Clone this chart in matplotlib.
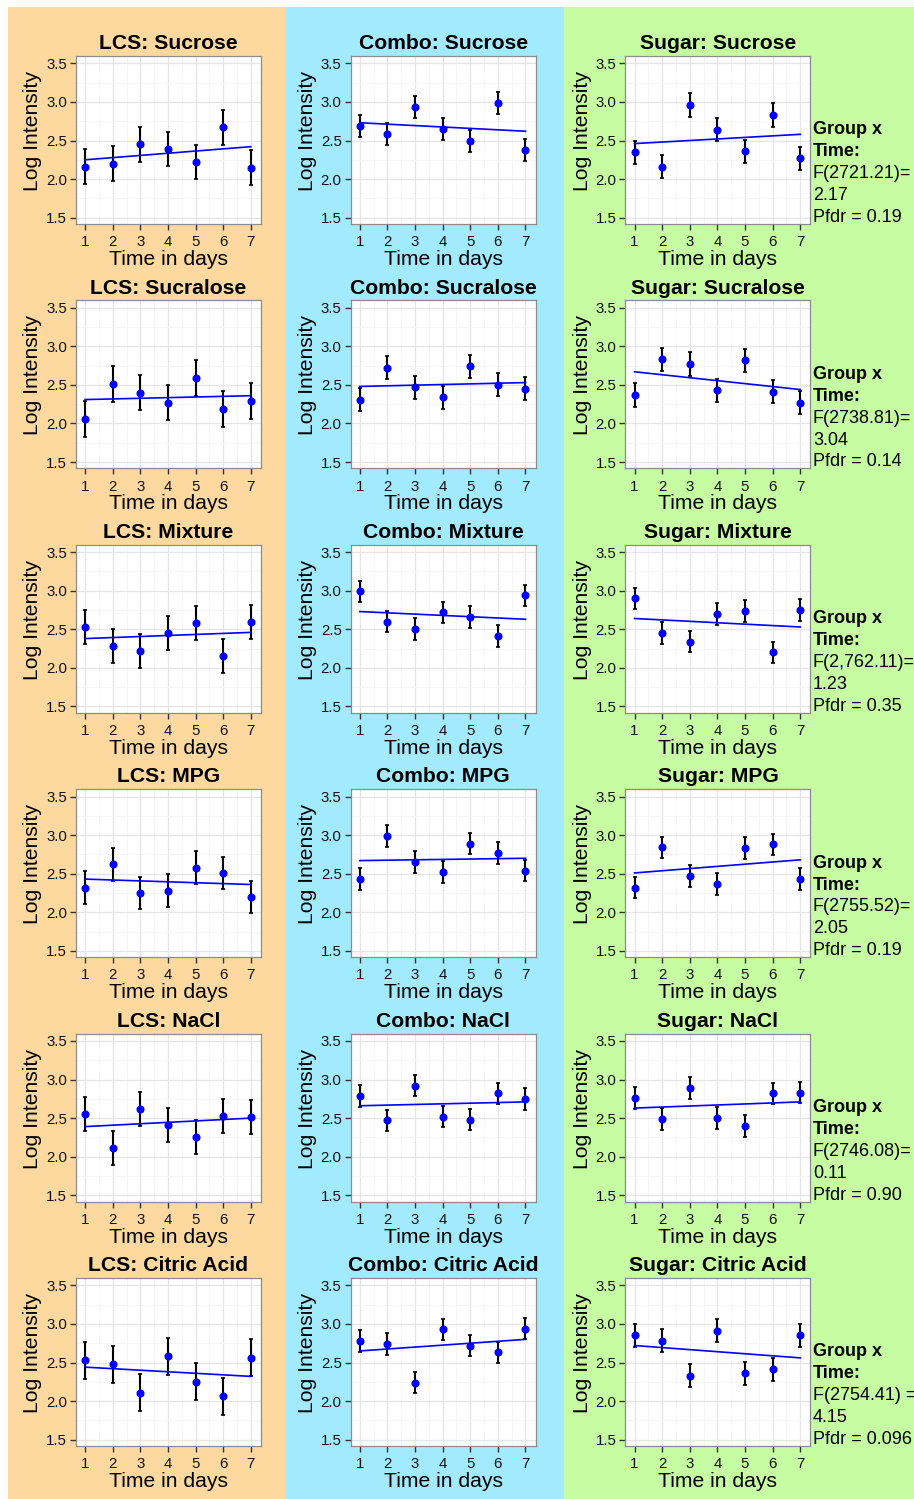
import matplotlib
matplotlib.use("Agg")
import matplotlib.pyplot as plt
from matplotlib.patches import Rectangle
from matplotlib.ticker import FixedLocator

plt.rcParams['font.family'] = ['Liberation Sans', 'DejaVu Sans']

# ---------------- data ----------------
days = [1, 2, 3, 4, 5, 6, 7]
yticks = [1.5, 2.0, 2.5, 3.0, 3.5]
stimuli = ['Sucrose', 'Sucralose', 'Mixture', 'MPG', 'NaCl', 'Citric Acid']
groups = ['LCS', 'Combo', 'Sugar']

lcs_means = [
    [2.16, 2.20, 2.45, 2.39, 2.22, 2.67, 2.15],
    [2.06, 2.51, 2.40, 2.27, 2.59, 2.19, 2.29],
    [2.53, 2.28, 2.22, 2.45, 2.58, 2.15, 2.60],
    [2.32, 2.62, 2.25, 2.28, 2.58, 2.51, 2.20],
    [2.55, 2.11, 2.62, 2.41, 2.26, 2.53, 2.51],
    [2.53, 2.48, 2.11, 2.58, 2.25, 2.06, 2.56],
]
lcs_err = [0.225, 0.23, 0.22, 0.21, 0.22, 0.24]
lcs_fit = [(2.25, 2.42), (2.31, 2.36), (2.38, 2.46), (2.43, 2.36), (2.39, 2.50), (2.44, 2.32)]

combo_means = [
    [2.69, 2.58, 2.93, 2.65, 2.49, 2.99, 2.38],
    [2.31, 2.72, 2.47, 2.34, 2.74, 2.50, 2.45],
    [2.99, 2.60, 2.50, 2.72, 2.66, 2.41, 2.94],
    [2.43, 2.99, 2.65, 2.52, 2.89, 2.77, 2.54],
    [2.79, 2.47, 2.92, 2.52, 2.48, 2.82, 2.75],
    [2.78, 2.74, 2.24, 2.93, 2.72, 2.63, 2.94],
]
combo_err = [0.142, 0.15, 0.14, 0.14, 0.14, 0.14]
combo_fit = [(2.73, 2.62), (2.48, 2.53), (2.73, 2.63), (2.67, 2.70), (2.66, 2.71), (2.65, 2.80)]

sugar_means = [
    [2.35, 2.16, 2.96, 2.64, 2.36, 2.83, 2.27],
    [2.37, 2.83, 2.77, 2.43, 2.82, 2.41, 2.27],
    [2.90, 2.45, 2.34, 2.70, 2.74, 2.20, 2.75],
    [2.32, 2.84, 2.47, 2.37, 2.83, 2.88, 2.43],
    [2.76, 2.49, 2.89, 2.50, 2.40, 2.82, 2.83],
    [2.85, 2.78, 2.33, 2.91, 2.36, 2.41, 2.85],
]
sugar_err = [0.15, 0.15, 0.14, 0.14, 0.14, 0.15]
sugar_fit = [(2.46, 2.58), (2.67, 2.44), (2.64, 2.53), (2.51, 2.68), (2.63, 2.71), (2.72, 2.56)]

stats_f = ['F(2721.21)=', 'F(2738.81)=', 'F(2,762.11)=', 'F(2755.52)=', 'F(2746.08)=', 'F(2754.41) =']
stats_v = ['2.17', '3.04', '1.23', '2.05', '0.11', '4.15']
stats_p = ['Pfdr = 0.19', 'Pfdr = 0.14', 'Pfdr = 0.35', 'Pfdr = 0.19', 'Pfdr = 0.90', 'Pfdr = 0.096']

bg_colors = ['#FDD9A0', '#A2EAFD', '#C6FCA2']

all_means = [lcs_means, combo_means, sugar_means]
all_err = [lcs_err, combo_err, sugar_err]
all_fit = [lcs_fit, combo_fit, sugar_fit]

# ---------------- layout ----------------
W, H = 914, 1499
fig = plt.figure(figsize=(W / 100, H / 100), dpi=100)

col_bounds = [(8, 285.5), (285.5, 563.7), (563.7, 914)]
for (x0, x1), col in zip(col_bounds, bg_colors):
    fig.patches.append(Rectangle((x0 / W, 0), (x1 - x0) / W, (H - 7) / H,
                                 transform=fig.transFigure, facecolor=col,
                                 edgecolor='none', zorder=-10))

ax_left0 = 76
col_pitch = 274.7
ax_top0 = 56
row_pitch = 244.4
ax_w = 185
ax_h = 168
PT = 0.72  # px -> pt

for r, stim in enumerate(stimuli):
    for c, grp in enumerate(groups):
        left = ax_left0 + c * col_pitch
        top = ax_top0 + r * row_pitch
        ax = fig.add_axes([left / W, 1 - (top + ax_h) / H, ax_w / W, ax_h / H])
        ax.set_facecolor('white')
        ax.set_xlim(0.67, 7.37)
        ax.set_ylim(1.418, 3.595)
        ax.set_xticks(days)
        ax.set_yticks(yticks)
        ax.set_xticklabels([str(d) for d in days])
        ax.set_yticklabels(['%.1f' % v for v in yticks])
        ax.xaxis.set_minor_locator(FixedLocator([d + 0.5 for d in days[:-1]]))
        ax.yaxis.set_minor_locator(FixedLocator([v + 0.25 for v in yticks[:-1]]))
        ax.grid(True, which='major', color='#e6e6e6', lw=0.9)
        ax.grid(True, which='minor', color='#f4f4f4', lw=0.6)
        ax.set_axisbelow(True)
        ax.tick_params(which='major', length=4.5, width=1.0, color='#333333',
                       labelsize=10.8, labelcolor='#111111')
        ax.tick_params(axis='x', which='major', pad=3.5)
        ax.tick_params(axis='y', which='major', pad=2.0)
        ax.tick_params(which='minor', length=0)
        for sp in ax.spines.values():
            sp.set_color('#8c8c8c')
            sp.set_linewidth(0.9)

        means = all_means[c][r]
        err = all_err[c][r]
        fs, fe = all_fit[c][r]
        ax.errorbar(days, means, yerr=err, fmt='none', ecolor='black',
                    elinewidth=1.5, capsize=1.3, capthick=1.2, zorder=3)
        ax.plot([days[0], days[-1]], [fs, fe], color='#0000FF', lw=1.2, zorder=4)
        ax.plot(days, means, 'o', color='#0000FF', ms=4.8, mec='#0000FF', zorder=5)

        ax.annotate('%s: %s' % (grp, stim), xy=(0.5, 1), xycoords='axes fraction',
                    xytext=(0, 6.7 * PT), textcoords='offset points',
                    ha='center', va='baseline', fontsize=15.2, fontweight='bold')
        ax.annotate('Time in days', xy=(0.5, 0), xycoords='axes fraction',
                    xytext=(0, -41 * PT), textcoords='offset points',
                    ha='center', va='baseline', fontsize=15.2)
        ax.annotate('Log Intensity', xy=(0, 1 - 75 / ax_h), xycoords='axes fraction',
                    xytext=(-43.3 * PT, 0), textcoords='offset points',
                    ha='center', va='center', rotation=90, fontsize=15.2)

        if c == 2:
            lines = [('Group x', 'bold'), ('Time:', 'bold'), (stats_f[r], 'normal'),
                     (stats_v[r], 'normal'), (stats_p[r], 'normal')]
            for i, (txt, wt) in enumerate(lines):
                ax.annotate(txt, xy=(1, 1), xycoords='axes fraction',
                            xytext=(2.6 * PT, -(74 + 21.9 * i) * PT),
                            textcoords='offset points', ha='left', va='center',
                            fontsize=13, fontweight=wt, annotation_clip=False)

fig.savefig('out.png', dpi=100)
